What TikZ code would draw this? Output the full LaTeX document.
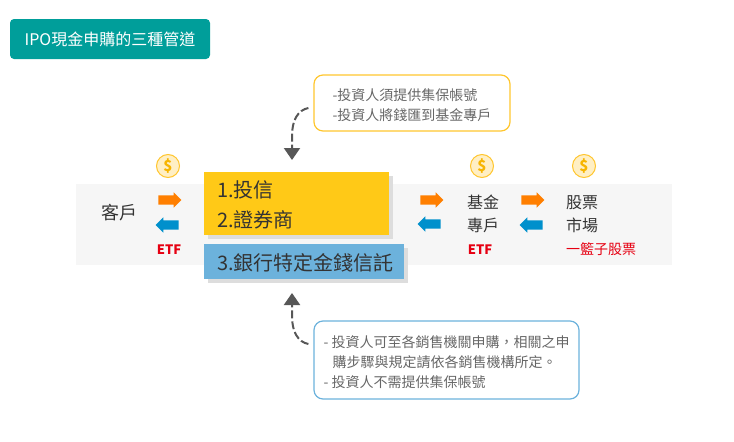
\documentclass[tikz,border=0pt]{standalone}
\usepackage{fontspec}
\setmainfont{Noto Sans CJK TC}
\usetikzlibrary{positioning, arrows.meta, shapes.arrows, shadows}
\definecolor{figteal}{HTML}{009E9A}
\definecolor{figyellow}{HTML}{FFC917}
\definecolor{figblue}{HTML}{6CB2DC}
\definecolor{figshade}{HTML}{DDDDDD}
\definecolor{figband}{HTML}{F6F6F6}
\definecolor{figorange}{HTML}{FF7F00}
\definecolor{figcyan}{HTML}{0090CC}
\definecolor{figred}{HTML}{E60012}
\definecolor{figcoin}{HTML}{FFEFC4}
\definecolor{figcoinline}{HTML}{FFC62E}
\definecolor{figdollar}{HTML}{F7B500}
\definecolor{figtext}{HTML}{333333}
\definecolor{fignote}{HTML}{666666}
\newcommand{\figlift}[1]{\rule{0pt}{#1}}
\begin{document}
\begin{tikzpicture}[
  x=1pt, y=-1pt,
  figtitle/.style={
    rectangle, fill=figteal, text=white, rounded corners=4pt,
    minimum width=200pt, minimum height=40pt, inner sep=0pt,
    font=\fontsize{16}{20}\selectfont,
  },
  figband/.style={
    rectangle, fill=figband, minimum width=596pt, minimum height=81pt, inner sep=0pt,
  },
  figchannel/.style={
    rectangle, anchor=north west, text=figtext, align=left, inner ysep=0pt, inner xsep=13pt,
    drop shadow={shadow xshift=4pt, shadow yshift=-4pt, opacity=1, fill=figshade},
  },
  fignotebox/.style={
    rectangle, line width=1.2pt, rounded corners=9pt, text=fignote, align=left, inner sep=0pt,
    font=\fontsize{14}{20}\selectfont,
  },
  figcoin/.style={
    circle, fill=figcoin, draw=figcoinline, line width=1pt, minimum size=23pt, inner sep=0pt,
    text=figdollar, font=\fontsize{15}{15}\selectfont\bfseries,
  },
  figarrow/.style={
    single arrow, minimum height=23pt, inner xsep=0pt, inner ysep=4.5pt,
    single arrow head extend=3pt, single arrow tip angle=90,
  },
  figout/.style={figarrow, fill=figorange},
  figback/.style={figarrow, fill=figcyan, shape border rotate=180},
  figplace/.style={text=figtext, align=left, inner sep=0pt},
  figetf/.style={text=figred, inner sep=0pt, font=\fontsize{14}{14}\selectfont},
  figflow/.style={
    -{Triangle[length=12pt, width=16pt]}, line width=2pt, color=fignote!85!black,
    dash pattern=on 8pt off 3pt,
  },
]
\useasboundingbox (0,0) rectangle (734,442);
\node[figtitle] (title) at (110,39) {IPO現金申購的三種管道};
\node[figband] (band) at (374,224.5) {};
\node[figchannel, fill=figyellow, minimum height=63pt, text width=159pt,
  font=\fontsize{20}{30}\selectfont] (fundbox) at (204,172) {\figlift{20pt}1.投信\\2.證券商};
\node[figchannel, fill=figblue, minimum height=35pt, text width=174pt,
  font=\fontsize{20}{24}\selectfont, below=8.5pt of fundbox.south west, anchor=north west] (bankbox) {\figlift{20pt}3.銀行特定金錢信託};
\node[fignotebox, draw=figcoinline, minimum width=196pt, minimum height=56pt] (noteup) at (412,103) {%
  \figlift{16pt}-投資人須提供集保帳號\\
  -投資人將錢匯到基金專戶%
};
\node[fignotebox, draw=figblue, minimum width=265pt, minimum height=78pt] (notedown) at (446.5,360) {%
  \figlift{16pt}- 投資人可至各銷售機關申購，相關之申\\
  \hspace*{9pt}購步驟與規定請依各銷售機構所定。\\
  - 投資人不需提供集保帳號%
};
\node[figplace, font=\fontsize{18}{22}\selectfont] (client) at (119,213) {客戶};
\node[figplace, font=\fontsize{16}{23}\selectfont] (account) at (483,214) {基金\\專戶};
\node[figplace, font=\fontsize{16}{23}\selectfont] (market) at (582,214) {股票\\市場};
\node[figcoin] (coina) at (168,166) {\$};
\node[figcoin] (coinb) at (482,166) {\$};
\node[figcoin] (coinc) at (584,166) {\$};
\node[figout] (outa) at (167.5,200) {};
\node[figback] (backa) at (169.5,225) {};
\node[figout] (outb) at (429.5,200) {};
\node[figback] (backb) at (431.5,224) {};
\node[figout] (outc) at (530.5,200) {};
\node[figback] (backc) at (533.5,225) {};
\node[figetf, font=\fontsize{13}{14}\selectfont] (etfa) at (169,250) {\textbf{ETF}};
\node[figetf, font=\fontsize{13}{14}\selectfont] (etfb) at (480,250) {\textbf{ETF}};
\node[figetf] (basket) at (601,249) {一籃子股票};
\coordinate (fundin) at (292,160);
\coordinate (bankin) at (292,293);
\draw[figflow] ([xshift=-5pt,yshift=-5pt]noteup.west) .. controls (298,110) and (292,120) .. (292,136) -- (fundin);
\draw[figflow] ([xshift=-5pt,yshift=16pt]notedown.west) .. controls (298,342) and (292,332) .. (292,316) -- (bankin);
\end{tikzpicture}
\end{document}
